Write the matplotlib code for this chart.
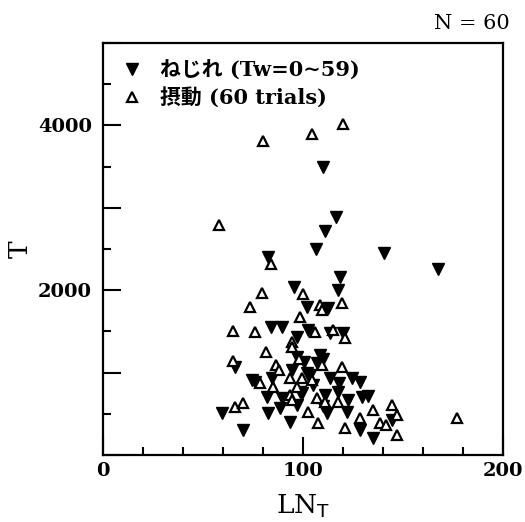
import matplotlib
matplotlib.use("Agg")
import matplotlib.pyplot as plt
from matplotlib.ticker import MultipleLocator, FuncFormatter

plt.rcParams['font.family'] = ['DejaVu Serif', 'Noto Sans CJK JP']

# ねじれ (filled down triangles)
twist_x = [110, 116.5, 111, 106.5, 140.5, 167.5, 82.5, 118.5, 95.5, 117.5,
           102, 112.5, 84, 89.5, 102.5, 113.5, 120, 97, 97, 100.5,
           66, 107, 108.5, 110, 94.5, 102, 103.5, 74.5, 76, 84.5,
           113.5, 124.5, 128.5, 105, 98.5, 99.5, 111, 117.5, 129.5, 132.5,
           122.5, 82, 89.5, 97, 88.5, 59.5, 82.5, 112, 122, 93.5,
           70, 144.5, 128.5, 135, 110, 118]
twist_y = [3490, 2885, 2715, 2500, 2450, 2255, 2400, 2160, 2035, 2000,
           1795, 1780, 1550, 1550, 1520, 1480, 1480, 1430, 1190, 1130,
           1065, 1115, 1210, 1170, 1030, 995, 970, 910, 885, 935,
           935, 935, 885, 850, 765, 750, 727, 765, 703, 715,
           667, 703, 690, 606, 570, 510, 510, 510, 520, 400,
           303, 425, 303, 206, 600, 880]

# 摂動 (open up triangles)
perturb_x = [120, 104.5, 80, 58, 84, 79.5, 100, 73.5, 119.5, 108.5,
             109.5, 98.5, 65, 76, 106, 115, 121, 94.5, 94.5, 81.5,
             98, 86.5, 65, 109.5, 119.5, 93.5, 78.5, 85, 99.5, 97,
             104.5, 93.5, 94.5, 107, 111, 117.5, 66, 70, 102.5, 107.5,
             144.5, 135, 128.5, 147, 177, 138.5, 141.5, 121, 147, 88]
perturb_y = [4010, 3890, 3805, 2790, 2315, 1965, 1950, 1795, 1840, 1820,
             1755, 1675, 1505, 1490, 1490, 1515, 1420, 1370, 1310, 1250,
             1170, 1090, 1140, 1090, 1065, 935, 875, 825, 935, 825,
             910, 727, 667, 690, 642, 642, 582, 630, 520, 390,
             606, 545, 450, 485, 450, 390, 365, 327, 242, 1030]

fig = plt.figure(figsize=(5.25, 5.22), dpi=100)
ax = fig.add_axes([0.196, 0.128, 0.762, 0.790])

ax.plot(twist_x, twist_y, linestyle='none', marker='v', markersize=8,
        color='black', label='ねじれ (Tw=0∼59)')
ax.plot(perturb_x, perturb_y, linestyle='none', marker='^', markersize=7.5,
        markerfacecolor='white', markeredgecolor='black', markeredgewidth=1.6,
        label='摂動 (60 trials)')

ax.set_xlim(0, 200)
ax.set_ylim(0, 5000)

ax.xaxis.set_major_locator(MultipleLocator(100))
ax.xaxis.set_minor_locator(MultipleLocator(20))
ax.yaxis.set_major_locator(MultipleLocator(1000))
ax.yaxis.set_minor_locator(MultipleLocator(500))
ax.yaxis.set_major_formatter(FuncFormatter(lambda v, p: f"{int(v)}" if v in (2000, 4000) else ""))

ax.tick_params(which='major', direction='in', length=13, width=1.5, top=False, right=False,
               labelsize=14)
ax.tick_params(which='minor', direction='in', length=6, width=1.5, top=False, right=False)
ax.tick_params(axis='x', pad=5)
ax.tick_params(axis='y', pad=8)
for lbl in ax.get_xticklabels() + ax.get_yticklabels():
    lbl.set_fontweight('bold')

for s in ax.spines.values():
    s.set_linewidth(1.6)

ax.set_xlabel(r'LN$_{\mathrm{T}}$', fontsize=19, labelpad=9)
ax.set_ylabel('T', fontsize=19)
ax.yaxis.set_label_coords(-0.175, 0.5)

ax.legend(loc='upper left', frameon=False, handlelength=1.1, handletextpad=0.8,
          borderaxespad=0.45, labelspacing=0.3, prop={'weight': 'bold', 'size': 15})

fig.text(0.97, 0.955, 'N = 60', ha='right', va='center', fontsize=15)

fig.savefig('out.png', dpi=100)
